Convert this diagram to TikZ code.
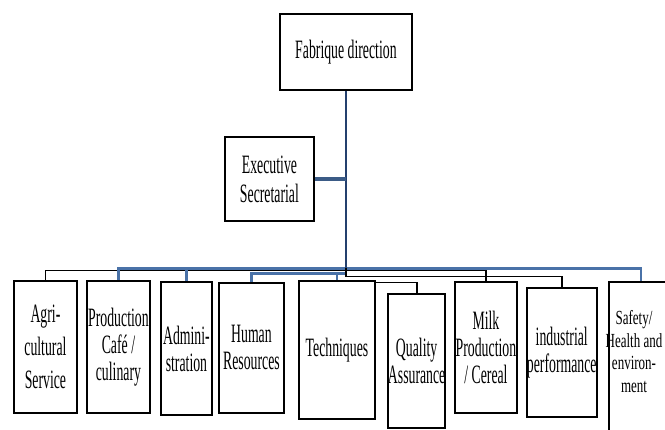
\documentclass[tikz,border=0pt]{standalone}
\usepackage{fontspec}
\setmainfont{Liberation Serif}[FakeStretch=0.52]
\usetikzlibrary{calc}
\definecolor{busblue}{HTML}{4A72A8}
\definecolor{mainblue}{HTML}{24406E}
\begin{document}
\begin{tikzpicture}[x=1pt,y=-1pt,
  orgbox/.style={draw, line width=1.9pt, anchor=north west, inner sep=0pt,
    align=center, font=\fontsize{26.5}{27}\selectfont},
  blueline/.style={draw=busblue, line width=2.3pt},
  blackline/.style={draw=black, line width=1.8pt},
  mainline/.style={draw=mainblue, line width=2.3pt},
  execline/.style={draw=busblue!80!black, line width=3.4pt}]
\clip (0,0) rectangle (665,430);
\fill[white] (0,0) rectangle (665,430);
% top boxes
\node[orgbox, minimum width=132pt, minimum height=76pt] (fab) at (279,13) {Fabrique direction};
\node[orgbox, minimum width=89pt, minimum height=84pt, font=\fontsize{26.5}{29}\selectfont] (exec) at (224,136) {Executive\\Secretarial};
% department boxes
\node[orgbox, minimum width=63pt, minimum height=132pt, font=\fontsize{26.5}{33}\selectfont] (agri) at (13,280) {Agri-\\cultural\\Service};
\node[orgbox, minimum width=63pt, minimum height=132pt] (prod) at (86,280) {Production\\Café /\\culinary};
\node[orgbox, minimum width=51pt, minimum height=133pt] (admin) at (160,281) {Admini-\\stration};
\node[orgbox, minimum width=65pt, minimum height=130pt] (hr) at (218,282) {Human\\Resources};
\node[orgbox, minimum width=76pt, minimum height=138pt] (tech) at (298,280) {Techniques};
\node[orgbox, minimum width=57pt, minimum height=134pt] (qual) at (387,293) {Quality\\Assurance};
\node[orgbox, minimum width=62pt, minimum height=131pt] (milk) at (454,281) {Milk\\Production\\/ Cereal};
\node[orgbox, minimum width=69pt, minimum height=129pt] (ind) at (526,287) {industrial\\performance};
\node[orgbox, minimum width=64pt, minimum height=160pt] (safety) at (608,281) {};
\node[inner sep=0pt, font=\fontsize{25}{28}\selectfont] (safetytext) at (634,354)
  {\scalebox{1}[0.8]{\begin{tabular}{@{}c@{}}Safety/\\Health and\\environ-\\ment\end{tabular}}};
% bus coordinates
\coordinate (bA) at (0,268.5);
\coordinate (bB) at (0,270.5);
\coordinate (bC) at (0,273.5);
\coordinate (bD) at (0,276.5);
\coordinate (hub) at (fab.south |- bA);
% connectors
\draw[blackline] (agri.north) |- (bB -| milk.north) -- (milk.north);
\draw[blueline] (prod.north) |- (bA -| safety.north) -- (safety.north);
\draw[blueline] (admin.north) -- (admin.north |- bA);
\draw[blueline] (hr.north) |- (bC -| fab.south);
\draw[blueline] (tech.north) -- (tech.north |- bC);
\draw[blackline] (hub) |- (bD -| ind.north) -- (ind.north);
\draw[blackline] ([yshift=-2.5pt]tech.north east) -| (qual.north);
\draw[mainline] (fab.south) -- (hub);
\draw[execline] (exec.east) -- (exec.east -| fab.south);
\end{tikzpicture}
\end{document}
